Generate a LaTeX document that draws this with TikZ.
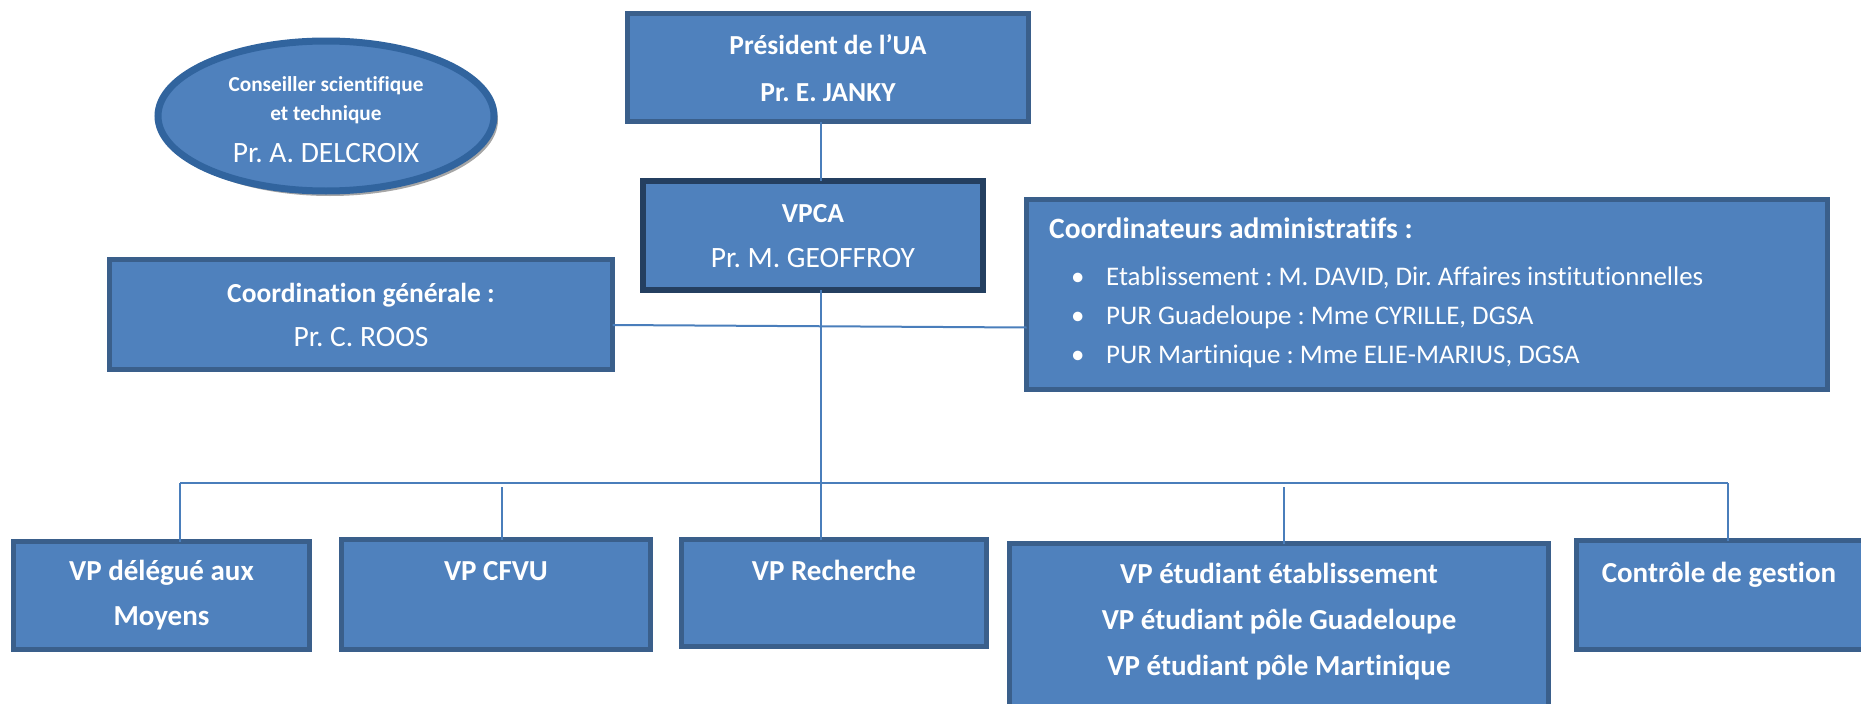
\documentclass[tikz,border=0pt]{standalone}
\usepackage{fontspec}
\setmainfont[Ligatures=NoCommon]{Carlito}
\usetikzlibrary{shapes.geometric,calc}
\frenchspacing
\definecolor{boxfill}{HTML}{4F81BD}
\definecolor{boxline}{HTML}{3A5F8B}
\definecolor{darkline}{HTML}{243F60}
\definecolor{ellline}{HTML}{31649E}
\definecolor{linkcol}{HTML}{4A7EBB}
\definecolor{shadowcol}{HTML}{A6A6A6}
\tikzset{
  orgbox/.style={rectangle, draw=boxline, fill=boxfill, line width=5pt, inner sep=0pt, outer sep=0pt},
  link/.style={draw=linkcol, line width=2pt},
  bt/.style={text=white, font=\frenchspacing\bfseries\fontsize{27.5}{33}\selectfont, inner sep=0pt, text height=17.7pt, text depth=0pt},
  bbt/.style={text=white, font=\frenchspacing\bfseries\fontsize{29}{35}\selectfont, inner sep=0pt, text height=18.7pt, text depth=0pt},
  rt/.style={text=white, font=\frenchspacing\fontsize{29.5}{35}\selectfont, inner sep=0pt, text height=19pt, text depth=0pt},
  st/.style={text=white, font=\frenchspacing\bfseries\fontsize{21.3}{25}\selectfont, inner sep=0pt, text height=13.7pt, text depth=0pt},
  ht/.style={text=white, font=\frenchspacing\bfseries\fontsize{29.5}{34}\selectfont, inner sep=0pt, text height=19pt, text depth=0pt, anchor=west},
  it/.style={text=white, font=\frenchspacing\fontsize{26.9}{32}\selectfont, inner sep=0pt, text height=17.3pt, text depth=0pt, anchor=west},
}
\begin{document}
\begin{tikzpicture}[x=1pt,y=-1pt]
\useasboundingbox (0,0) rectangle (1861,704);
\clip (0,0) rectangle (1861,704);
% ellipse with shadow
\node[ellipse, fill=shadowcol, minimum width=336pt, minimum height=152pt, inner sep=0pt] (ellsh) at (330,120) {};
\node[ellipse, draw=ellline, fill=boxfill, line width=7pt, minimum width=336pt, minimum height=150pt, inner sep=0pt] (cst) at (326,116) {};
\node[st] (cst1) at (326,85) {Conseiller scientifique};
\node[st] (cst2) at (326,114) {et technique};
\node[rt] (cst3) at (326,153) {Pr. A. DELCROIX};
% president
\node[orgbox, minimum width=401pt, minimum height=108pt] (pres) at (828,67.5) {};
\node[bt] (pres1) at (828,46) {Président de l’UA};
\node[bt] (pres2) at (828,93) {Pr. E. JANKY};
% VPCA
\node[orgbox, draw=darkline, line width=6pt, minimum width=340pt, minimum height=109pt] (vpca) at (813,235.5) {};
\node[bt] (vpca1) at (813,214) {VPCA};
\node[rt] (vpca2) at (813,258) {Pr. M. GEOFFROY};
% coordination generale
\node[orgbox, minimum width=503pt, minimum height=110pt] (cg) at (361,314.5) {};
\node[bt] (cg1) at (361,294) {Coordination générale :};
\node[rt] (cg2) at (361,337) {Pr. C. ROOS};
% coordinateurs administratifs
\node[orgbox, minimum width=801pt, minimum height=190pt] (ca) at (1427,294.5) {};
\node[ht] (ca0) at (1049,229) {Coordinateurs administratifs :};
\node[it] (cab1) at (1071,277) {•};
\node[it] (cab2) at (1071,316) {•};
\node[it] (cab3) at (1071,355) {•};
\node[it] (ca1) at (1106,277) {Etablissement : M. DAVID, Dir. Affaires institutionnelles};
\node[it] (ca2) at (1106,316) {PUR Guadeloupe : Mme CYRILLE, DGSA};
\node[it] (ca3) at (1106,355) {PUR Martinique : Mme ELIE-MARIUS, DGSA};
% bottom row
\node[orgbox, minimum width=296pt, minimum height=108pt] (b1) at (161.5,595.5) {};
\node[bbt] (b1a) at (161.5,571) {VP délégué aux};
\node[bbt] (b1b) at (161.5,616) {Moyens};
\node[orgbox, minimum width=309pt, minimum height=110pt] (b2) at (496,594.5) {};
\node[bbt] (b2a) at (496,571) {VP CFVU};
\node[orgbox, minimum width=305pt, minimum height=107pt] (b3) at (834,593) {};
\node[bbt] (b3a) at (834,571) {VP Recherche};
\node[orgbox, minimum width=539pt, minimum height=214pt] (b4) at (1279,650.5) {};
\node[bbt] (b4a) at (1279,574) {VP étudiant établissement};
\node[bbt] (b4b) at (1279,620) {VP étudiant pôle Guadeloupe};
\node[bbt] (b4c) at (1279,666) {VP étudiant pôle Martinique};
\node[orgbox, minimum width=301pt, minimum height=109pt] (b5) at (1727,595) {};
\node[bbt] (b5a) at (1719,573) {Contrôle de gestion};
% connectors
\coordinate (tx) at (821,0);
\coordinate (busL) at (180,483);
\coordinate (busR) at (1728,483);
\coordinate (c2) at (502,487);
\coordinate (c4) at (1284,487);
\draw[link] (pres.south -| tx) -- (vpca.north -| tx);
\draw[link] (vpca.south -| tx) -- (b3.north -| tx);
\draw[link] ($(cg.east)+(0,10.5)$) -- ($(ca.west)+(0,33)$);
\draw[link] (busL) -- (busR);
\draw[link] (busL) -- (b1.north -| busL);
\draw[link] (c2) -- (b2.north -| c2);
\draw[link] (c4) -- (b4.north -| c4);
\draw[link] (busR) -- (b5.north -| busR);
\end{tikzpicture}
\end{document}
